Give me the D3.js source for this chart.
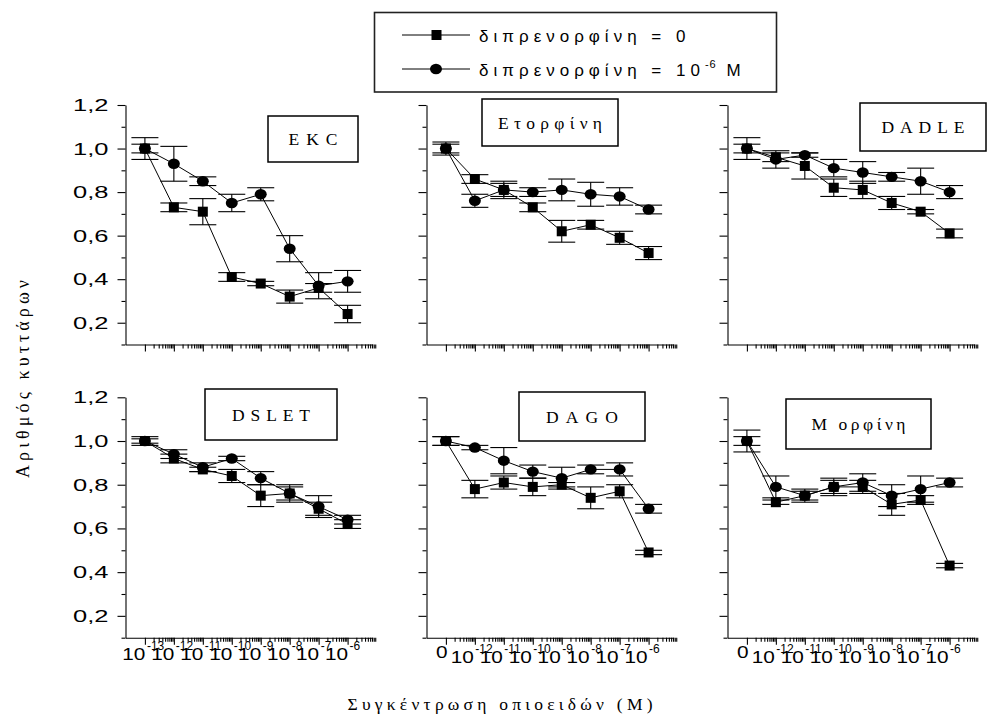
<!DOCTYPE html>
<html><head><meta charset="utf-8">
<script src="https://cdn.jsdelivr.net/npm/d3@7"></script>
<style>body{margin:0;background:#fff}svg{display:block}</style>
</head><body>
<svg id="chart" width="987" height="719"></svg>
<script>
// Opioid concentrations (M): decades 10^-13 … 10^-6
const exponents = [-13, -12, -11, -10, -9, -8, -7, -6];

// Panel titles
const panelNames = ["EKC", "Ετορφίνη", "DADLE", "DSLET", "DAGO", "Μ ορφίνη"];

// Series: diprenorphine = 0 (squares) and diprenorphine = 10^-6 M (circles), mean and error
const ekcZero      = [1.00, 0.73, 0.71, 0.41, 0.38, 0.32, 0.36, 0.24];
const ekcZeroErr   = [0.02, 0.02, 0.06, 0.02, 0.01, 0.03, 0.02, 0.04];
const ekcDipr      = [1.00, 0.93, 0.85, 0.75, 0.79, 0.54, 0.37, 0.39];
const ekcDiprErr   = [0.05, 0.08, 0.02, 0.04, 0.03, 0.06, 0.06, 0.05];

const etoZero      = [1.00, 0.86, 0.81, 0.73, 0.62, 0.65, 0.59, 0.52];
const etoZeroErr   = [0.02, 0.02, 0.04, 0.02, 0.05, 0.02, 0.03, 0.03];
const etoDipr      = [1.00, 0.76, 0.81, 0.80, 0.81, 0.79, 0.78, 0.72];
const etoDiprErr   = [0.03, 0.03, 0.03, 0.02, 0.05, 0.055, 0.04, 0.02];

const dadleZero    = [1.00, 0.96, 0.92, 0.82, 0.81, 0.75, 0.71, 0.61];
const dadleZeroErr = [0.02, 0.02, 0.06, 0.04, 0.04, 0.03, 0.01, 0.02];
const dadleDipr    = [1.00, 0.95, 0.97, 0.91, 0.89, 0.87, 0.85, 0.80];
const dadleDiprErr = [0.05, 0.04, 0.01, 0.04, 0.05, 0.02, 0.06, 0.03];

const dsletZero    = [1.00, 0.92, 0.87, 0.84, 0.75, 0.76, 0.69, 0.62];
const dsletZeroErr = [0.01, 0.02, 0.01, 0.03, 0.05, 0.03, 0.03, 0.02];
const dsletDipr    = [1.00, 0.94, 0.88, 0.92, 0.83, 0.76, 0.70, 0.64];
const dsletDiprErr = [0.02, 0.02, 0.02, 0.01, 0.03, 0.04, 0.05, 0.02];

const dagoZero     = [1.00, 0.78, 0.81, 0.79, 0.80, 0.74, 0.77, 0.49];
const dagoZeroErr  = [0.02, 0.04, 0.03, 0.04, 0.01, 0.05, 0.03, 0.01];
const dagoDipr     = [1.00, 0.97, 0.91, 0.86, 0.83, 0.87, 0.87, 0.69];
const dagoDiprErr  = [0.02, 0.01, 0.06, 0.03, 0.05, 0.02, 0.03, 0.02];

const morZero      = [1.00, 0.72, 0.75, 0.79, 0.79, 0.71, 0.73, 0.43];
const morZeroErr   = [0.02, 0.01, 0.03, 0.03, 0.03, 0.05, 0.02, 0.01];
const morDipr      = [1.00, 0.79, 0.75, 0.79, 0.81, 0.75, 0.78, 0.81];
const morDiprErr   = [0.05, 0.05, 0.02, 0.04, 0.04, 0.05, 0.06, 0.02];

// Y ticks
const yMajorTicks = [0.2, 0.4, 0.6, 0.8, 1.0, 1.2];
const yMinorTicks = [0.1, 0.3, 0.5, 0.7, 0.9, 1.1];
const yTickLabels = ["0,2", "0,4", "0,6", "0,8", "1,0", "1,2"];

// Legend / axis titles
const legendLabels = ["διπρενορφίνη = 0", "διπρενορφίνη = 10"];
const yTitle = "Αριθμός κυττάρων";
const xTitle = "Συγκέντρωση οπιοειδών (Μ)";

// ---------------------------------------------------------------------------
const panelData = [
  {zero: ekcZero,   zeroErr: ekcZeroErr,   dipr: ekcDipr,   diprErr: ekcDiprErr},
  {zero: etoZero,   zeroErr: etoZeroErr,   dipr: etoDipr,   diprErr: etoDiprErr},
  {zero: dadleZero, zeroErr: dadleZeroErr, dipr: dadleDipr, diprErr: dadleDiprErr},
  {zero: dsletZero, zeroErr: dsletZeroErr, dipr: dsletDipr, diprErr: dsletDiprErr},
  {zero: dagoZero,  zeroErr: dagoZeroErr,  dipr: dagoDipr,  diprErr: dagoDiprErr},
  {zero: morZero,   zeroErr: morZeroErr,   dipr: morDipr,   diprErr: morDiprErr}
];

// Layout
const colX = [125.5, 426.5, 727.5];
const rows = [{top: 105, bottom: 344.5}, {top: 397.3, bottom: 637.7}];
const axisLen = 247.3;
const titleBoxes = [
  {x: 268, y: 116, w: 90,  h: 46, tl: 49},
  {x: 482, y: 99,  w: 136, h: 47, tl: 104},
  {x: 860, y: 103, w: 126, h: 48, tl: 83},
  {x: 205, y: 389, w: 132, h: 51, tl: 78},
  {x: 519, y: 392, w: 126, h: 49, tl: 72},
  {x: 786, y: 399, w: 145, h: 50, tl: 94}
];

const SANS = "'Liberation Sans', Arial, sans-serif";
const SERIF = "'Liberation Serif', 'Times New Roman', serif";

const svg = d3.select("#chart");

function drawPanel(p) {
  const col = p % 3, row = Math.floor(p / 3);
  const x0 = colX[col];
  const r = rows[row];
  const d = panelData[p];

  const x = d3.scaleLog()
    .domain([Math.pow(10, -13.67), Math.pow(10, -5.13)])
    .range([x0, x0 + axisLen]);
  const y = d3.scaleLinear().domain([0.1, 1.2]).range([r.bottom, r.top]);

  const g = svg.append("g");

  // x axis: major decade ticks and minor 2..9 ticks
  const xMajor = exponents.map(e => Math.pow(10, e));
  const xMinor = [];
  exponents.forEach(e => { for (let k = 2; k <= 9; k++) xMinor.push(k * Math.pow(10, e)); });
  const xAxisMajor = d3.axisBottom(x).tickValues(xMajor).tickSize(7).tickSizeOuter(0).tickFormat("");
  const xAxisMinor = d3.axisBottom(x).tickValues(xMinor).tickSize(4).tickSizeOuter(0).tickFormat("");
  const gxMin = g.append("g").attr("transform", `translate(0,${r.bottom})`).call(xAxisMinor);
  gxMin.select(".domain").remove();
  g.append("g").attr("transform", `translate(0,${r.bottom})`).call(xAxisMajor);

  // y axis
  const yAxisMajor = d3.axisLeft(y).tickValues(yMajorTicks).tickSize(8).tickSizeOuter(0).tickFormat("");
  const yAxisMinor = d3.axisLeft(y).tickValues(yMinorTicks).tickSize(4).tickSizeOuter(0).tickFormat("");
  const gyMin = g.append("g").attr("transform", `translate(${x0},0)`).call(yAxisMinor);
  gyMin.select(".domain").remove();
  g.append("g").attr("transform", `translate(${x0},0)`).call(yAxisMajor);

  g.selectAll(".domain, .tick line").attr("stroke", "#000").attr("stroke-width", 1.1);

  // y tick labels on the first column (wide, horizontally stretched digits)
  if (col === 0) {
    g.selectAll(".ylab").data(yMajorTicks).join("text")
      .attr("transform", v => `translate(${x0 - 17},${y(v) + 6}) scale(1.5,1)`)
      .attr("text-anchor", "end")
      .attr("font-family", SANS)
      .attr("font-size", 17)
      .text((v, i) => yTickLabels[i]);
  }

  // x tick labels on the bottom row: 10 with superscript exponent
  if (row === 1) {
    const base = col === 0 ? 660 : 663;
    exponents.forEach((e, i) => {
      const tx = x(Math.pow(10, e));
      if (i === 0 && col > 0) {
        g.append("text").attr("transform", `translate(${tx - 4},${base - 5}) scale(1.3,1)`)
          .attr("text-anchor", "middle").attr("font-family", SANS).attr("font-size", 16)
          .text("0");
        return;
      }
      const off = col === 0 ? 0.5 : -1;
      g.append("text").attr("transform", `translate(${tx + off},${base}) scale(1.3,1)`)
        .attr("text-anchor", "end").attr("font-family", SANS).attr("font-size", 16)
        .text("10");
      g.append("text").attr("x", tx + off + 1.5).attr("y", base - 10)
        .attr("text-anchor", "start").attr("font-family", SANS).attr("font-size", 12)
        .text("-" + (-e));
    });
  }

  const pts = key => exponents.map((e, i) => ({
    cx: x(Math.pow(10, e)), v: d[key][i], err: d[key + "Err"][i]
  }));
  const series = [pts("zero"), pts("dipr")];

  // error bars
  series.forEach(s => {
    const eb = g.append("g").attr("stroke", "#000").attr("stroke-width", 1.1);
    s.forEach(q => {
      eb.append("line").attr("x1", q.cx).attr("x2", q.cx).attr("y1", y(q.v - q.err)).attr("y2", y(q.v + q.err));
      [q.v - q.err, q.v + q.err].forEach(c => {
        eb.append("line").attr("x1", q.cx - 13.5).attr("x2", q.cx + 13.5).attr("y1", y(c)).attr("y2", y(c));
      });
    });
  });

  // connecting lines
  const line = d3.line().x(q => q.cx).y(q => y(q.v));
  series.forEach(s => {
    g.append("path").attr("d", line(s)).attr("fill", "none").attr("stroke", "#000").attr("stroke-width", 1);
  });

  // markers
  g.selectAll(".sq").data(series[0]).join("rect")
    .attr("x", q => q.cx - 5).attr("y", q => y(q.v) - 5)
    .attr("width", 10).attr("height", 10).attr("fill", "#000");
  g.selectAll(".ci").data(series[1]).join("ellipse")
    .attr("cx", q => q.cx).attr("cy", q => y(q.v))
    .attr("rx", 6).attr("ry", 5.2).attr("fill", "#000");

  // title box
  const tb = titleBoxes[p];
  g.append("rect").attr("x", tb.x).attr("y", tb.y).attr("width", tb.w).attr("height", tb.h)
    .attr("fill", "#fff").attr("stroke", "#000").attr("stroke-width", 1.5);
  g.append("text").attr("x", tb.x + tb.w / 2).attr("y", tb.y + tb.h / 2 + 6)
    .attr("text-anchor", "middle").attr("font-family", SERIF).attr("font-size", 17.5)
    .attr("textLength", tb.tl).attr("lengthAdjust", "spacing")
    .text(panelNames[p]);
}

for (let p = 0; p < 6; p++) drawPanel(p);

// Legend
const lg = svg.append("g");
lg.append("rect").attr("x", 374.5).attr("y", 12.5).attr("width", 402).attr("height", 79.5)
  .attr("fill", "#fff").attr("stroke", "#222").attr("stroke-width", 1.6);
[35, 69].forEach((ly, i) => {
  lg.append("line").attr("x1", 402).attr("x2", 470).attr("y1", ly).attr("y2", ly)
    .attr("stroke", "#000").attr("stroke-width", 1);
  if (i === 0) {
    lg.append("rect").attr("x", 431.5).attr("y", ly - 5).attr("width", 10).attr("height", 10).attr("fill", "#000");
  } else {
    lg.append("ellipse").attr("cx", 436).attr("cy", ly).attr("rx", 6).attr("ry", 5.2).attr("fill", "#000");
  }
  const t = lg.append("text").attr("x", 479).attr("y", ly + 7)
    .attr("font-family", SANS).attr("font-size", 17).attr("letter-spacing", 5)
    .text(legendLabels[i]);
  if (i === 1) {
    t.append("tspan").attr("dy", -8).attr("font-size", 11).attr("letter-spacing", 1).text("-6");
    t.append("tspan").attr("dy", 8).attr("font-size", 17).attr("letter-spacing", 5).text(" Μ");
  }
});

// Axis titles
svg.append("text")
  .attr("transform", "translate(29,379) rotate(-90)")
  .attr("text-anchor", "middle").attr("font-family", SERIF).attr("font-size", 18)
  .attr("textLength", 198).attr("lengthAdjust", "spacing")
  .text(yTitle);
svg.append("text")
  .attr("x", 500).attr("y", 710)
  .attr("text-anchor", "middle").attr("font-family", SERIF).attr("font-size", 17.5)
  .attr("textLength", 305).attr("lengthAdjust", "spacing")
  .text(xTitle);
</script>
</body></html>
